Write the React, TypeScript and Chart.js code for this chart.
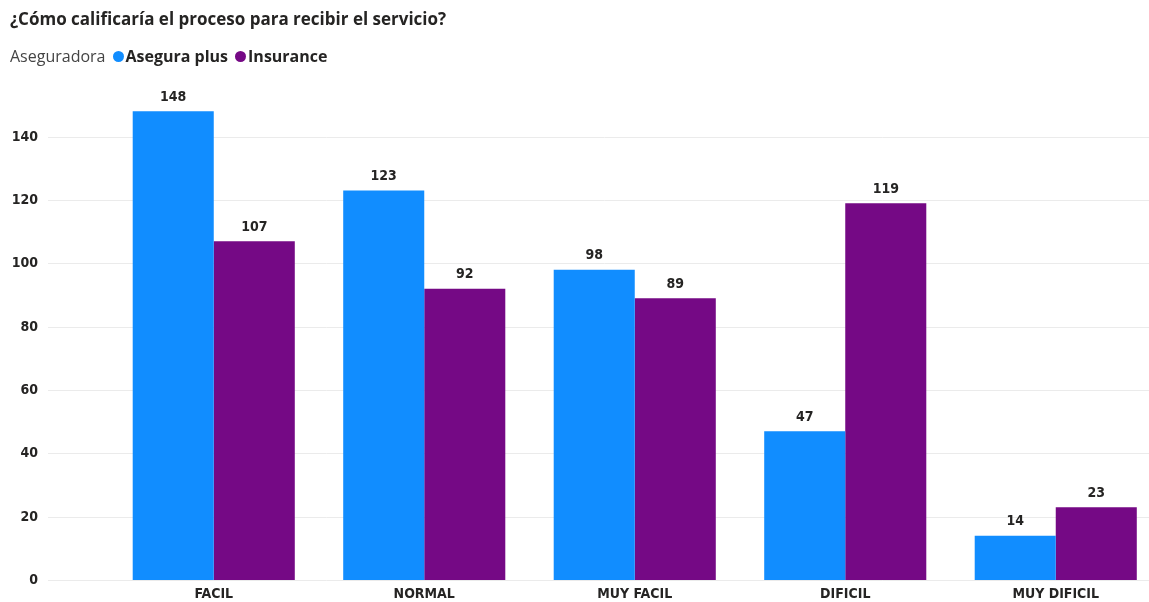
import React, { useEffect, useRef } from "react";
import { Chart, registerables } from "chart.js";

Chart.register(...registerables);

const categories = ["FACIL", "NORMAL", "MUY FACIL", "DIFICIL", "MUY DIFICIL"];
const aseguraPlus = [148, 123, 98, 47, 14];
const insurance = [107, 92, 89, 119, 23];
const seriesNames = ["Asegura plus", "Insurance"];
const yTicks = [0, 20, 40, 60, 80, 100, 120, 140];

const BLUE = "#118DFF";
const PURPLE = "#750985";
const NUM_FONT = "'DejaVu Sans Condensed', 'DejaVu Sans', sans-serif";
const TEXT = "#252423";

const gridPlugin = {
  id: "fullGrid",
  beforeDatasetsDraw(chart: any) {
    const { ctx } = chart;
    const y = chart.scales.y;
    ctx.save();
    ctx.strokeStyle = "#ebebeb";
    ctx.lineWidth = 1;
    ctx.font = `bold 14px ${NUM_FONT}`;
    ctx.fillStyle = TEXT;
    ctx.textAlign = "right";
    ctx.textBaseline = "middle";
    for (const v of yTicks) {
      const py = Math.round(y.getPixelForValue(v)) + 0.5;
      ctx.beginPath();
      ctx.moveTo(48, py);
      ctx.lineTo(chart.width, py);
      ctx.stroke();
      ctx.fillText(String(v), 38, py);
    }
    ctx.restore();
  },
};

const labelPlugin = {
  id: "barLabels",
  afterDatasetsDraw(chart: any) {
    const { ctx } = chart;
    ctx.save();
    ctx.font = `bold 14px ${NUM_FONT}`;
    ctx.fillStyle = TEXT;
    ctx.textAlign = "center";
    ctx.textBaseline = "bottom";
    chart.data.datasets.forEach((ds: any, i: number) => {
      const meta = chart.getDatasetMeta(i);
      meta.data.forEach((bar: any, j: number) => {
        ctx.fillText(String(ds.data[j]), bar.x, bar.y - 7);
      });
    });
    ctx.restore();
  },
};

export default function App() {
  const ref = useRef<HTMLCanvasElement>(null);
  useEffect(() => {
    if (!ref.current) return;
    const chart = new Chart(ref.current, {
      type: "bar",
      data: {
        labels: categories,
        datasets: [
          {
            label: seriesNames[0],
            data: aseguraPlus,
            backgroundColor: BLUE,
            categoryPercentage: 0.77,
            barPercentage: 1,
          },
          {
            label: seriesNames[1],
            data: insurance,
            backgroundColor: PURPLE,
            categoryPercentage: 0.77,
            barPercentage: 1,
          },
        ],
      },
      options: {
        responsive: false,
        maintainAspectRatio: false,
        animation: false,
        devicePixelRatio: 1,
        layout: { padding: { top: 105, right: 0, left: 0, bottom: 0 } },
        plugins: {
          legend: { display: false },
          title: { display: false },
          tooltip: { enabled: false },
        },
        scales: {
          x: {
            grid: { display: false, drawTicks: false },
            border: { display: false },
            ticks: {
              padding: 6,
              color: TEXT,
              font: { family: NUM_FONT, size: 14, weight: "bold" },
              maxRotation: 0,
            },
            afterFit: (s: any) => {
              s.height = 22;
            },
          },
          y: {
            min: 0,
            max: 150,
            grid: { display: false, drawTicks: false },
            border: { display: false },
            ticks: { display: false, stepSize: 20 },
            afterFit: (s: any) => {
              s.width = 108.5;
            },
          },
        },
      },
      plugins: [gridPlugin, labelPlugin],
    });
    return () => chart.destroy();
  }, []);

  const dot = (c: string) => ({
    display: "inline-block",
    width: 11,
    height: 11,
    borderRadius: "50%",
    background: c,
    margin: "0 2px 0 7px",
    verticalAlign: "middle",
    position: "relative" as const,
    top: -1,
  });

  return (
    <div
      style={{
        position: "fixed",
        left: 0,
        top: 0,
        width: 1149,
        height: 602,
        overflow: "hidden",
        background: "#fff",
      }}
    >
      <canvas
        ref={ref}
        width={1161}
        height={602}
        style={{ position: "absolute", left: 0, top: 0, width: 1161, height: 602 }}
      />
      <div
        style={{
          position: "absolute",
          left: 10,
          top: 7,
          fontFamily: "'Open Sans', 'Noto Sans', sans-serif",
          fontWeight: 700,
          fontSize: 17,
          color: TEXT,
          whiteSpace: "nowrap",
        }}
      >
        ¿Cómo calificaría el proceso para recibir el servicio?
      </div>
      <div
        style={{
          position: "absolute",
          left: 10,
          top: 45,
          fontFamily: "'Open Sans', 'Noto Sans', sans-serif",
          fontSize: 16,
          color: TEXT,
          whiteSpace: "nowrap",
        }}
      >
        <span style={{ color: "#444" }}>Aseguradora</span>
        <span style={dot(BLUE)} />
        <b>{seriesNames[0]}</b>
        <span style={dot(PURPLE)} />
        <b>{seriesNames[1]}</b>
      </div>
    </div>
  );
}
